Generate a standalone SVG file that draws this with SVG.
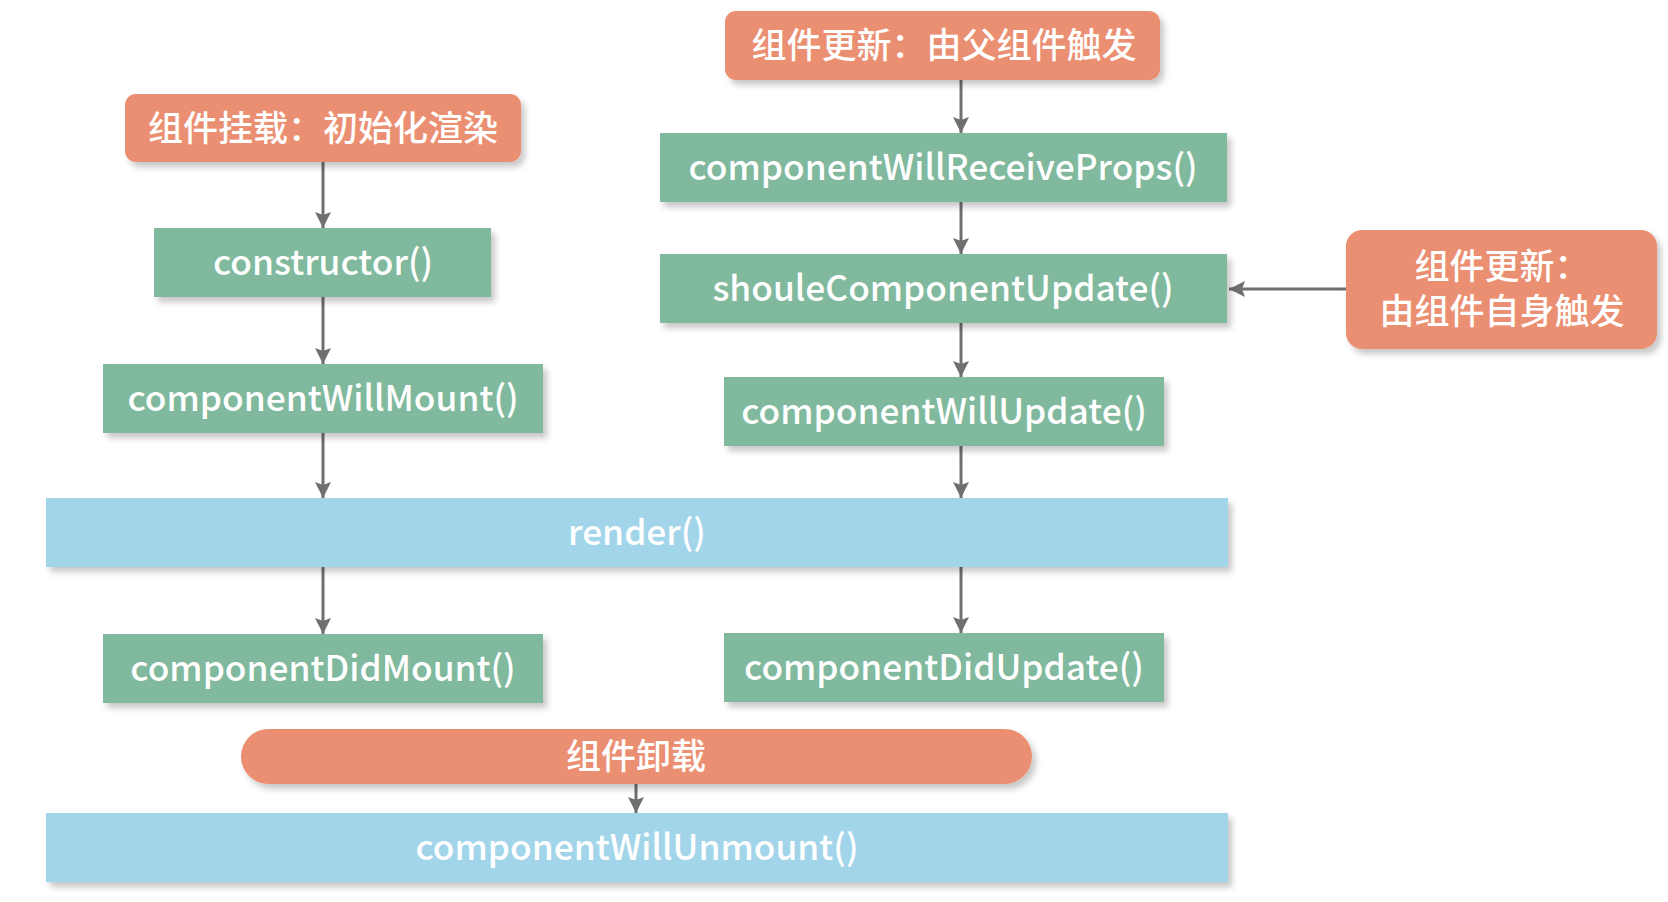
<svg xmlns="http://www.w3.org/2000/svg" width="1668" height="902" viewBox="0 0 1668 902">
<defs>
<filter id="sh" x="-10%" y="-20%" width="120%" height="150%">
<feDropShadow dx="4" dy="5" stdDeviation="3" flood-color="#000" flood-opacity="0.22"/>
</filter>
<marker id="ah" markerUnits="userSpaceOnUse" markerWidth="16" markerHeight="18" viewBox="0 0 16 18" refX="16" refY="9" orient="auto">
<path d="M0,1 L16,9 L0,17 L3,9 Z" fill="#6f6f6f"/>
</marker>
<style>
.o{fill:#EB8F72;filter:url(#sh)}
.g{fill:#80B99D;filter:url(#sh)}
.b{fill:#A3D5EA;filter:url(#sh)}
.t{fill:#fff;font-family:"Noto Sans CJK SC","Noto Sans",sans-serif;font-size:35.3px;font-weight:500;text-anchor:middle;dominant-baseline:central}
.c{font-size:35px}
.l{stroke:#6f6f6f;stroke-width:3;fill:none;marker-end:url(#ah)}
</style>
</defs>
<rect width="1668" height="902" fill="#fff"/>
<g id="connectors">
<line class="l" x1="323" y1="162" x2="323" y2="228"/>
<line class="l" x1="323" y1="297" x2="323" y2="364"/>
<line class="l" x1="323" y1="433" x2="323" y2="498"/>
<line class="l" x1="323" y1="567" x2="323" y2="634"/>
<line class="l" x1="961" y1="80" x2="961" y2="133"/>
<line class="l" x1="961" y1="202" x2="961" y2="254"/>
<line class="l" x1="961" y1="323" x2="961" y2="377"/>
<line class="l" x1="961" y1="446" x2="961" y2="498"/>
<line class="l" x1="961" y1="567" x2="961" y2="633"/>
<line class="l" x1="636" y1="784" x2="636" y2="813"/>
<line class="l" x1="1346" y1="289" x2="1229" y2="289"/>
</g>
<g id="mount-trigger">
<rect class="o" x="125" y="94" width="396" height="68" rx="11"/>
<text class="t c" x="323" y="125">组件挂载：初始化渲染</text>
</g>
<g id="parent-update-trigger">
<rect class="o" x="725" y="11" width="435" height="69" rx="11"/>
<text class="t c" x="944" y="42">组件更新：由父组件触发</text>
</g>
<g id="self-update-trigger">
<rect class="o" x="1346" y="230" width="311" height="119" rx="16"/>
<text class="t c" x="1502" y="263">组件更新：<tspan x="1502" dy="45">由组件自身触发</tspan></text>
</g>
<g id="constructor">
<rect class="g" x="154" y="228" width="337" height="69"/>
<text class="t" x="323" y="259">constructor()</text>
</g>
<g id="componentWillMount">
<rect class="g" x="103" y="364" width="440" height="69"/>
<text class="t" x="323" y="395">componentWillMount()</text>
</g>
<g id="componentWillReceiveProps">
<rect class="g" x="660" y="133" width="567" height="69"/>
<text class="t" x="943" y="164">componentWillReceiveProps()</text>
</g>
<g id="shouleComponentUpdate">
<rect class="g" x="660" y="254" width="567" height="69"/>
<text class="t" x="943" y="285">shouleComponentUpdate()</text>
</g>
<g id="componentWillUpdate">
<rect class="g" x="724" y="377" width="440" height="69"/>
<text class="t" x="944" y="408">componentWillUpdate()</text>
</g>
<g id="render">
<rect class="b" x="46" y="498" width="1182" height="69"/>
<text class="t" x="637" y="529">render()</text>
</g>
<g id="componentDidMount">
<rect class="g" x="103" y="634" width="440" height="69"/>
<text class="t" x="323" y="665">componentDidMount()</text>
</g>
<g id="componentDidUpdate">
<rect class="g" x="724" y="633" width="440" height="69"/>
<text class="t" x="944" y="664">componentDidUpdate()</text>
</g>
<g id="unmount-trigger">
<rect class="o" x="241" y="729" width="791" height="55" rx="27.5"/>
<text class="t c" x="636" y="753">组件卸载</text>
</g>
<g id="componentWillUnmount">
<rect class="b" x="46" y="813" width="1182" height="69"/>
<text class="t" x="637" y="844">componentWillUnmount()</text>
</g>
</svg>
